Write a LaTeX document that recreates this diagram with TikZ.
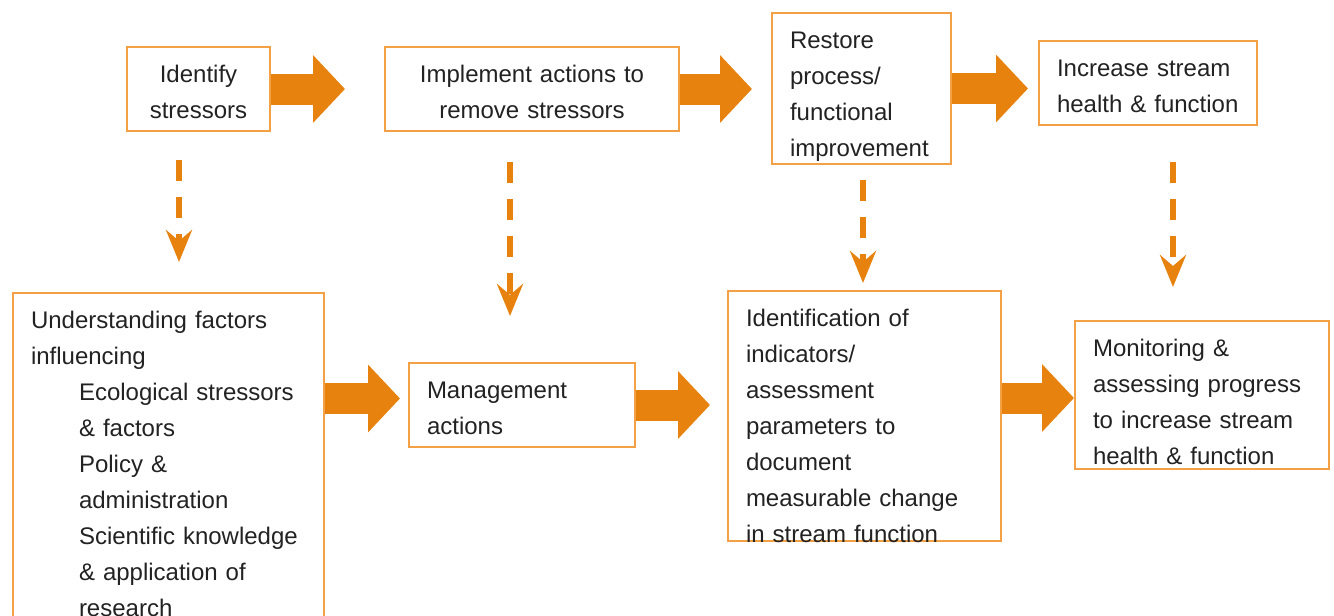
\documentclass[tikz,border=0pt]{standalone}
\usepackage{fontspec}
\setmainfont{Liberation Sans}
\usetikzlibrary{arrows.meta, calc, positioning}

\definecolor{flowfill}{HTML}{E8820F}
\definecolor{boxline}{HTML}{F4A044}
\definecolor{txt}{HTML}{222222}

\tikzset{
  stepbox/.style={draw=boxline, line width=2pt, inner xsep=18pt, inner ysep=0pt,
    text height=35pt, anchor=north west, align=left, text=txt,
    font=\fontsize{24pt}{36pt}\selectfont},
  flowarrow/.style={draw=flowfill, line width=31pt, -{Triangle[length=32pt,width=66pt]}},
  dashflow/.style={draw=flowfill, line width=6pt, dash pattern=on 21pt off 16pt,
    -{Stealth[length=32pt,width=26pt,inset=11pt]}}
}

\begin{document}
\begin{tikzpicture}[x=1pt, y=-1pt]
        \useasboundingbox (0,0) rectangle (1334,616);
        \clip (0,0) rectangle (1334,616);
        \node[stepbox, align=center, text width=107pt, text depth=49pt] (id) at (126,46) {Identify\\stressors};
        \node[stepbox, align=center, text width=258pt, text depth=49pt] (impl) at (384,46) {Implement actions to\\remove stressors};
        \node[stepbox, text width=143pt, text depth=116pt] (restore) at (771,12) {Restore\\process/\\functional\\improvement};
        \node[stepbox, text width=182pt, text depth=49pt] (incr) at (1038,40) {Increase stream\\health \& function};
        \node[stepbox, text width=275pt, text depth=305pt] (und) at (12,292) {Understanding factors\\influencing\\
          \hspace*{48pt}Ecological stressors\\\hspace*{48pt}\& factors\\\hspace*{48pt}Policy \&\\
          \hspace*{48pt}administration\\\hspace*{48pt}Scientific knowledge\\
          \hspace*{48pt}\& application of\\\hspace*{48pt}research};
        \node[stepbox, text width=190pt, text depth=49pt] (mgmt) at (408,362) {Management\\actions};
        \node[stepbox, text width=237pt, text depth=215pt] (ident) at (727,290) {Identification of\\indicators/\\assessment\\parameters to\\document\\measurable change\\in stream function};
        \node[stepbox, text width=218pt, text depth=113pt] (monit) at (1074,320) {Monitoring \&\\assessing progress\\to increase stream\\health \& function};
        \draw[flowarrow, shorten >=39pt] (id.east) -- (impl.west);
        \draw[flowarrow, shorten >=19pt] (impl.east) -- (impl.east -| restore.west);
        \draw[flowarrow, shorten >=10pt] (restore.east) -- (restore.east -| incr.west);
        \draw[flowarrow, shorten >=8pt] ($(und.east |- mgmt.west)+(0,-6.5)$) -- ($(mgmt.west)+(0,-6.5)$);
        \draw[flowarrow, shorten >=17pt] (mgmt.east) -- (mgmt.east -| ident.west);
        \draw[flowarrow] ($(ident.east |- monit.west)+(0,3)$) -- ($(monit.west)+(0,3)$);
        \draw[dashflow] ($(id.south)+(-19.5,28)$) -- ($(und.north)+(10.5,-30)$);
        \draw[dashflow] ($(impl.south)+(-22,30)$) -- ($(mgmt.north)+(-12,-46)$);
        \draw[dashflow] ($(restore.south)+(1.5,15)$) -- ($(ident.north)+(-1.5,-7)$);
        \draw[dashflow] ($(incr.south)+(25,36)$) -- ($(monit.north)+(-29,-33)$);
\end{tikzpicture}
\end{document}
